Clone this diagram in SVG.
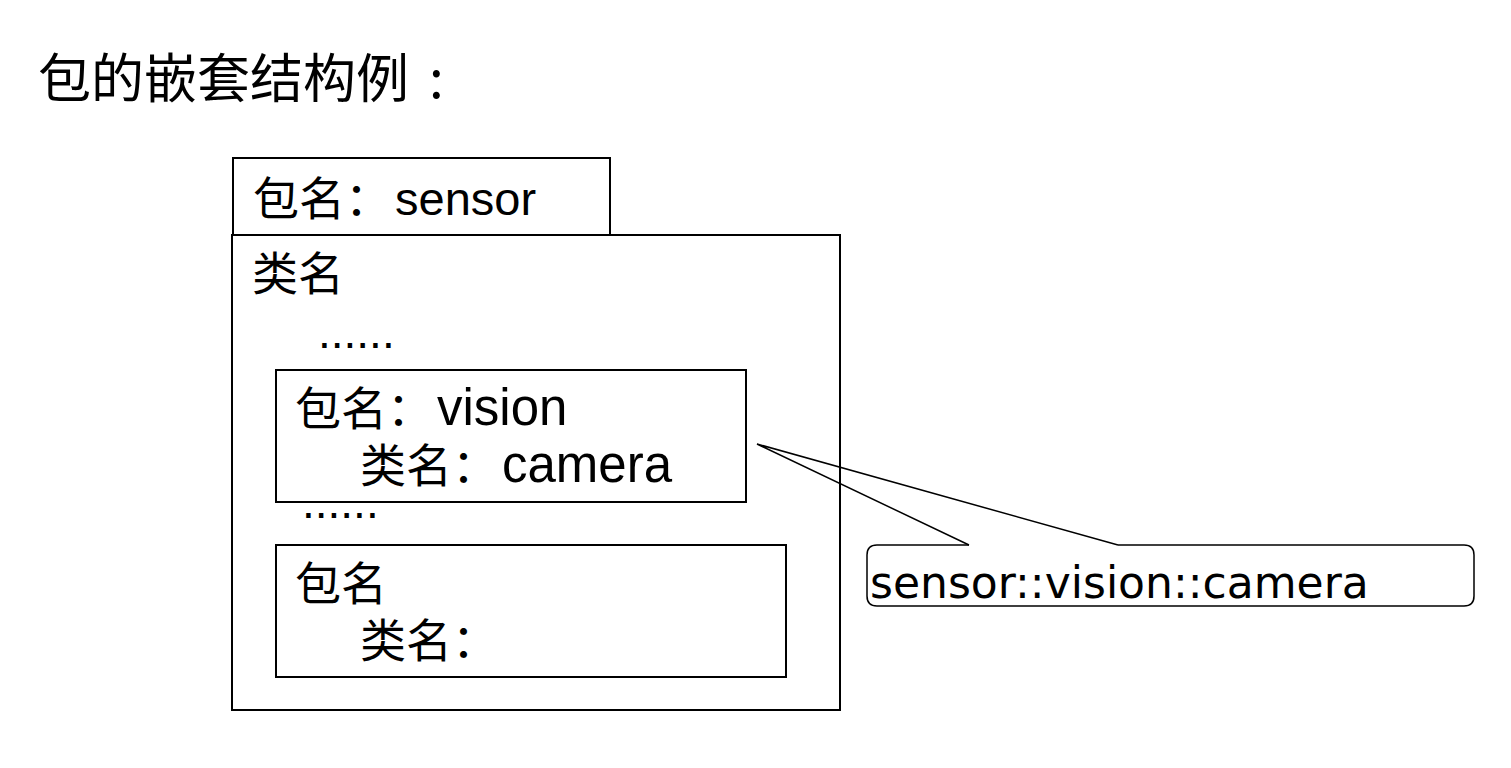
<svg xmlns="http://www.w3.org/2000/svg" width="1511" height="768" viewBox="0 0 1511 768">
<style>
.box{fill:#fff;stroke:#000;stroke-width:2}
.cj{font-family:"Noto Sans CJK SC","Liberation Sans",sans-serif;font-size:46px;fill:#000}
.lat{font-family:"Liberation Sans","Noto Sans CJK SC",sans-serif;font-size:51px;fill:#000}
.dots{font-family:"Liberation Sans",sans-serif;font-size:46px;fill:#000}
.ttl{font-family:"Noto Sans CJK SC",sans-serif;font-size:53px;fill:#000}
.call{font-family:"DejaVu Sans",sans-serif;font-size:44px;fill:#000}
.ln{fill:none;stroke:#000;stroke-width:1.5}
</style>
<rect width="1511" height="768" fill="#fff"/>
<text class="ttl" x="38" y="98">包的嵌套结构例<tspan dx="20">:</tspan></text>
<g id="pkg-sensor">
<rect class="box" x="233" y="158" width="377" height="77"/>
<rect class="box" x="232" y="235" width="608" height="475"/>
<text x="253" y="215"><tspan class="cj">包名：</tspan><tspan class="lat" dx="4" style="font-size:47px">sensor</tspan></text>
<text class="cj" x="252" y="290">类名</text>
<text class="dots" x="318" y="348">......</text>
<text class="dots" x="302" y="518">......</text>
</g>
<g id="pkg-vision">
<rect class="box" x="276" y="370" width="470" height="132"/>
<text x="295" y="425"><tspan class="cj">包名：</tspan><tspan class="lat" dx="4">vision</tspan></text>
<text x="360" y="482"><tspan class="cj">类名：</tspan><tspan class="lat" dx="4">camera</tspan></text>
</g>
<g id="pkg-other">
<rect class="box" x="276" y="545" width="510" height="132"/>
<text class="cj" x="295" y="600">包名</text>
<text class="cj" x="360" y="657">类名：</text>
</g>
<g id="connectors">
<path class="ln" d="M969 545 L757 444 L1118 545"/>
</g>
<g id="callout">
<path class="ln" d="M969 545 L877 545 Q867 545 867 555 L867 596 Q867 606 877 606 L1464 606 Q1474 606 1474 596 L1474 555 Q1474 545 1464 545 L1118 545"/>
<text class="call" x="870" y="598">sensor::vision::camera</text>
</g>
</svg>
